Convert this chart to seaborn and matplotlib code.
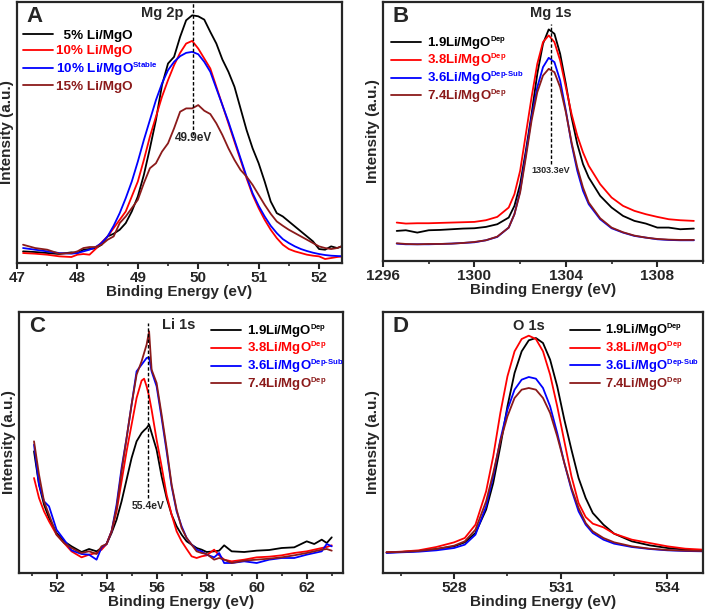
import matplotlib
matplotlib.use('Agg')
import matplotlib.pyplot as plt
import matplotlib._mathtext as mathtext_internal
import seaborn as sns
from matplotlib.ticker import MultipleLocator

# smaller superscripts, like the original figure
mathtext_internal.SHRINK_FACTOR = 0.58

# Mg 2p (A)
xA = [47.1, 47.3, 47.5, 47.7, 47.9, 48.0, 48.1, 48.2, 48.3, 48.4, 48.5, 48.6, 48.7, 48.8, 48.9,
      49.0, 49.1, 49.2, 49.3, 49.4, 49.5, 49.6, 49.7, 49.8, 49.9, 50.0, 50.1, 50.2, 50.3, 50.4,
      50.5, 50.6, 50.7, 50.8, 50.9, 51.0, 51.1, 51.2, 51.3, 51.4, 51.5, 51.6, 51.7, 51.8, 51.9,
      52.0, 52.1, 52.2, 52.3, 52.4]
a_5 = [35, 33, 30, 27, 32, 30, 40, 42, 44, 55, 80, 88, 100, 120, 155,
       200, 265, 345, 430, 535, 600, 620, 680, 730, 745, 742, 732, 695, 660, 612,
       575, 530, 465, 400, 345, 300, 245, 185, 150, 140, 125, 110, 95, 80, 65,
       42, 40, 50, 45, 52]
a_10 = [30, 28, 25, 20, 18, 25, 27, 25, 42, 62, 80, 105, 130, 155, 200,
        245, 310, 380, 440, 500, 550, 595, 632, 660, 668, 645, 615, 585, 530, 475,
        420, 365, 310, 255, 205, 165, 130, 100, 75, 55, 42, 35, 30, 25, 22,
        20, 12, 15, 18, 20]
a_10s = [45, 40, 35, 30, 28, 30, 35, 40, 48, 60, 80, 112, 150, 195, 245,
         305, 370, 430, 490, 540, 580, 605, 622, 632, 635, 628, 605, 575, 525, 475,
         425, 370, 315, 260, 210, 172, 140, 112, 90, 72, 60, 50, 42, 36, 31,
         27, 24, 22, 21, 20]
a_15 = [55, 45, 40, 28, 30, 35, 45, 48, 48, 55, 70, 80, 120, 140, 165,
        190, 240, 285, 300, 335, 360, 405, 455, 465, 465, 475, 458, 448, 420, 385,
        345, 310, 280, 260, 235, 205, 175, 148, 125, 112, 100, 90, 80, 70, 60,
        50, 45, 42, 45, 52]

# Mg 1s (B)
xB = [1296.6, 1297.0, 1297.5, 1298.0, 1298.5, 1299.0, 1299.5, 1300.0, 1300.5, 1301.0, 1301.5,
      1301.75, 1302.0, 1302.25, 1302.5, 1302.75, 1303.0, 1303.25, 1303.5, 1303.75, 1304.0,
      1304.25, 1304.5, 1304.75, 1305.0, 1305.5, 1306.0, 1306.5, 1307.0, 1307.5, 1308.0,
      1308.5, 1309.0, 1309.6]
b_19 = [90, 92, 85, 92, 93, 95, 97, 98, 102, 110, 130, 165, 230, 330, 440, 560, 650, 693, 680,
        620, 530, 430, 350, 290, 250, 195, 160, 135, 120, 112, 100, 100, 95, 97]
b_38 = [115, 112, 113, 113, 114, 115, 116, 117, 122, 132, 160, 200, 270, 380, 490, 590, 655,
        675, 655, 600, 520, 440, 375, 325, 285, 230, 190, 165, 150, 140, 132, 125, 122, 120]
b_36 = [52, 50, 50, 50, 51, 52, 54, 56, 62, 72, 100, 140, 210, 320, 430, 520, 580, 608, 595,
        540, 450, 350, 270, 210, 170, 125, 98, 85, 75, 70, 65, 63, 62, 62]
b_74 = [53, 51, 50, 51, 51, 52, 54, 57, 62, 73, 100, 140, 205, 310, 420, 505, 555, 575, 565,
        520, 445, 355, 280, 220, 175, 128, 100, 86, 76, 70, 66, 64, 63, 63]

# Li 1s (C)
xC = [51.1, 51.3, 51.5, 51.7, 52.0, 52.3, 52.6, 53.0, 53.3, 53.6, 53.8, 54.0, 54.2, 54.4, 54.6,
      54.8, 55.0, 55.2, 55.4, 55.5, 55.6, 55.7, 55.8, 56.0, 56.2, 56.4, 56.6, 56.8, 57.0, 57.2,
      57.4, 57.6, 57.8, 58.0, 58.3, 58.5, 58.7, 59.0, 59.5, 60.0, 60.5, 61.0, 61.5, 62.0, 62.3,
      62.6, 62.8, 63.0]
c_19 = [365, 265, 205, 165, 120, 95, 80, 63, 72, 65, 75, 87, 120, 160, 215,
        280, 345, 395, 420, 428, 435, 445, 420, 370, 290, 225, 175, 140, 115, 95,
        85, 75, 70, 63, 65, 67, 83, 65, 63, 67, 69, 75, 77, 95, 87,
        100, 90, 107]
c_38 = [285, 225, 185, 155, 115, 90, 65, 47, 55, 60, 70, 87, 125, 185, 275,
        365, 445, 525, 577, 583, 560, 530, 490, 400, 320, 235, 175, 125, 95, 72,
        50, 45, 50, 53, 70, 53, 40, 35, 40, 47, 49, 53, 60, 65, 70,
        75, 78, 83]
c_36 = [385, 265, 215, 200, 130, 100, 68, 57, 55, 40, 77, 87, 125, 205, 315,
        405, 505, 605, 625, 635, 645, 647, 605, 560, 465, 365, 260, 185, 140, 105,
        85, 70, 65, 55, 47, 60, 30, 30, 35, 30, 40, 45, 45, 55, 60,
        65, 87, 80]
c_74 = [395, 295, 215, 175, 115, 90, 75, 60, 65, 57, 80, 87, 125, 195, 305,
        405, 505, 595, 635, 660, 685, 725, 610, 570, 475, 375, 265, 190, 135, 105,
        85, 65, 60, 57, 40, 45, 40, 30, 37, 40, 43, 47, 53, 60, 65,
        70, 72, 67]

# O 1s (D)
xD = [526.1, 526.5, 527.0, 527.5, 528.0, 528.3, 528.6, 528.9, 529.1, 529.3, 529.5, 529.7, 529.9,
      530.1, 530.3, 530.5, 530.7, 530.9, 531.1, 531.3, 531.5, 531.7, 531.9, 532.2, 532.5, 533.0,
      533.5, 534.0, 534.5, 535.0]
d_19 = [62, 63, 66, 72, 80, 92, 120, 190, 270, 380, 500, 600, 665, 698, 705, 690, 640, 560, 460,
        370, 285, 225, 180, 145, 118, 95, 83, 75, 70, 67]
d_38 = [62, 64, 68, 78, 92, 105, 145, 245, 350, 480, 590, 665, 702, 712, 702, 665, 595, 500, 395,
        290, 210, 168, 148, 137, 118, 100, 90, 80, 73, 70]
d_36 = [60, 62, 64, 68, 75, 85, 115, 200, 290, 400, 490, 550, 580, 588, 583, 555, 500, 420, 330,
        250, 185, 145, 120, 100, 88, 78, 72, 68, 66, 65]
d_74 = [62, 63, 66, 72, 82, 95, 130, 215, 300, 395, 470, 525, 550, 555, 550, 525, 480, 410, 330,
        255, 195, 150, 125, 105, 92, 80, 73, 69, 67, 66]

colors = ['black', '#ff0000', '#0000ff', '#8b1a1a']
labels_A = ['  5% Li/MgO', '10% Li/MgO', '10% Li/MgO$^{Stable}$', '15% Li/MgO']
labels_dep = ['1.9Li/MgO$^{Dep}$', '3.8Li/MgO$^{Dep}$', '3.6Li/MgO$^{Dep\\text{-}Sub}$',
              '7.4Li/MgO$^{Dep}$']

sns.set_style('ticks')
plt.rcParams['font.family'] = ['Liberation Sans', 'DejaVu Sans']
plt.rcParams['font.weight'] = 'bold'
plt.rcParams['axes.labelweight'] = 'bold'
plt.rcParams['mathtext.fontset'] = 'custom'
plt.rcParams['mathtext.rm'] = 'Liberation Sans:bold'
plt.rcParams['mathtext.bf'] = 'Liberation Sans:bold'
plt.rcParams['mathtext.it'] = 'Liberation Sans:bold'
plt.rcParams['mathtext.default'] = 'bf'

fig = plt.figure(figsize=(7.07, 6.13), dpi=100)
axA = fig.add_axes([17 / 707, 350 / 613, 325 / 707, 261 / 613])
axB = fig.add_axes([383 / 707, 352 / 613, 320 / 707, 259 / 613])
axC = fig.add_axes([19 / 707, 40 / 613, 324 / 707, 261 / 613])
axD = fig.add_axes([383 / 707, 40 / 613, 320 / 707, 261 / 613])

panels = [
    (axA, xA, [a_5, a_10, a_10s, a_15], labels_A, (47, 52.38), (0, 785), 1, 'A'),
    (axB, xB, [b_19, b_38, b_36, b_74], labels_dep, (1296, 1310), (0, 775), 4, 'B'),
    (axC, xC, [c_19, c_38, c_36, c_74], labels_dep, (50.5, 63.45), (0, 783), 2, 'C'),
    (axD, xD, [d_19, d_38, d_36, d_74], labels_dep, (526, 535), (0, 783), 3, 'D'),
]

for ax, x, ys, labs, xl, yl, step, letter in panels:
    for y, c, lab in zip(ys, colors, labs):
        sns.lineplot(x=x, y=y, ax=ax, color=c, lw=1.3, label=lab)
    ax.set_xlim(*xl)
    ax.set_ylim(*yl)
    ax.set_yticks([])
    ax.xaxis.set_major_locator(MultipleLocator(step))
    ax.xaxis.set_minor_locator(MultipleLocator(step / 2))
    ax.tick_params(axis='x', which='major', length=4, width=1.5, labelsize=11, pad=2)
    ax.tick_params(axis='x', which='minor', length=2.5, width=1.2)
    for s in ax.spines.values():
        s.set_linewidth(1.6)
    ax.set_xlabel('Binding Energy (eV)', fontsize=11, labelpad=0)
    ax.set_ylabel('Intensity (a.u.)', fontsize=11, labelpad=2)
    ax.text(0.03, 0.985, letter, transform=ax.transAxes, fontsize=16,
            fontweight='bold', va='top', ha='left')

legA = axA.legend(loc='upper left', bbox_to_anchor=(-0.005, 0.925), frameon=False, fontsize=9.7,
                  handlelength=2.2, handletextpad=0.2, labelspacing=0.22, borderaxespad=0.2)
legB = axB.legend(loc='upper left', bbox_to_anchor=(0.0, 0.905), frameon=False, fontsize=9.5,
                  handlelength=2.3, handletextpad=0.4, labelspacing=0.05, borderaxespad=0.2)
legC = axC.legend(loc='upper right', bbox_to_anchor=(1.025, 0.99), frameon=False, fontsize=9.5,
                  handlelength=2.3, handletextpad=0.4, labelspacing=0.05, borderaxespad=0.2)
legD = axD.legend(loc='upper right', bbox_to_anchor=(1.012, 0.99), frameon=False, fontsize=9.3,
                  handlelength=2.3, handletextpad=0.4, labelspacing=0.05, borderaxespad=0.2)
for leg in [legA, legB, legC, legD]:
    for t, c in zip(leg.get_texts(), colors):
        t.set_color(c)

dash = (0, (2.5, 1.5))
# peak markers
axA.plot([49.92, 49.92], [385, 785], color='black', lw=1, linestyle=dash)
axA.text(49.4, 752, 'Mg 2p', fontsize=10.5, ha='center', va='center')
axA.text(49.93, 375, '49.9eV', fontsize=8.5, ha='center', va='center')

axB.plot([1303.35, 1303.35], [290, 710], color='black', lw=1, linestyle=dash)
axB.text(1303.35, 742, 'Mg 1s', fontsize=10.5, ha='center', va='center')
axB.text(1303.35, 270, '1303.3eV', fontsize=6.5, ha='center', va='center')

axC.plot([55.67, 55.67], [225, 750], color='black', lw=1, linestyle=dash)
axC.text(56.9, 745, 'Li 1s', fontsize=10.5, ha='center', va='center')
axC.text(55.67, 200, '55.4eV', fontsize=7.5, ha='center', va='center')

axD.text(530.1, 740, 'O 1s', fontsize=10.5, ha='center', va='center')

fig.savefig('out.png', dpi=100)
